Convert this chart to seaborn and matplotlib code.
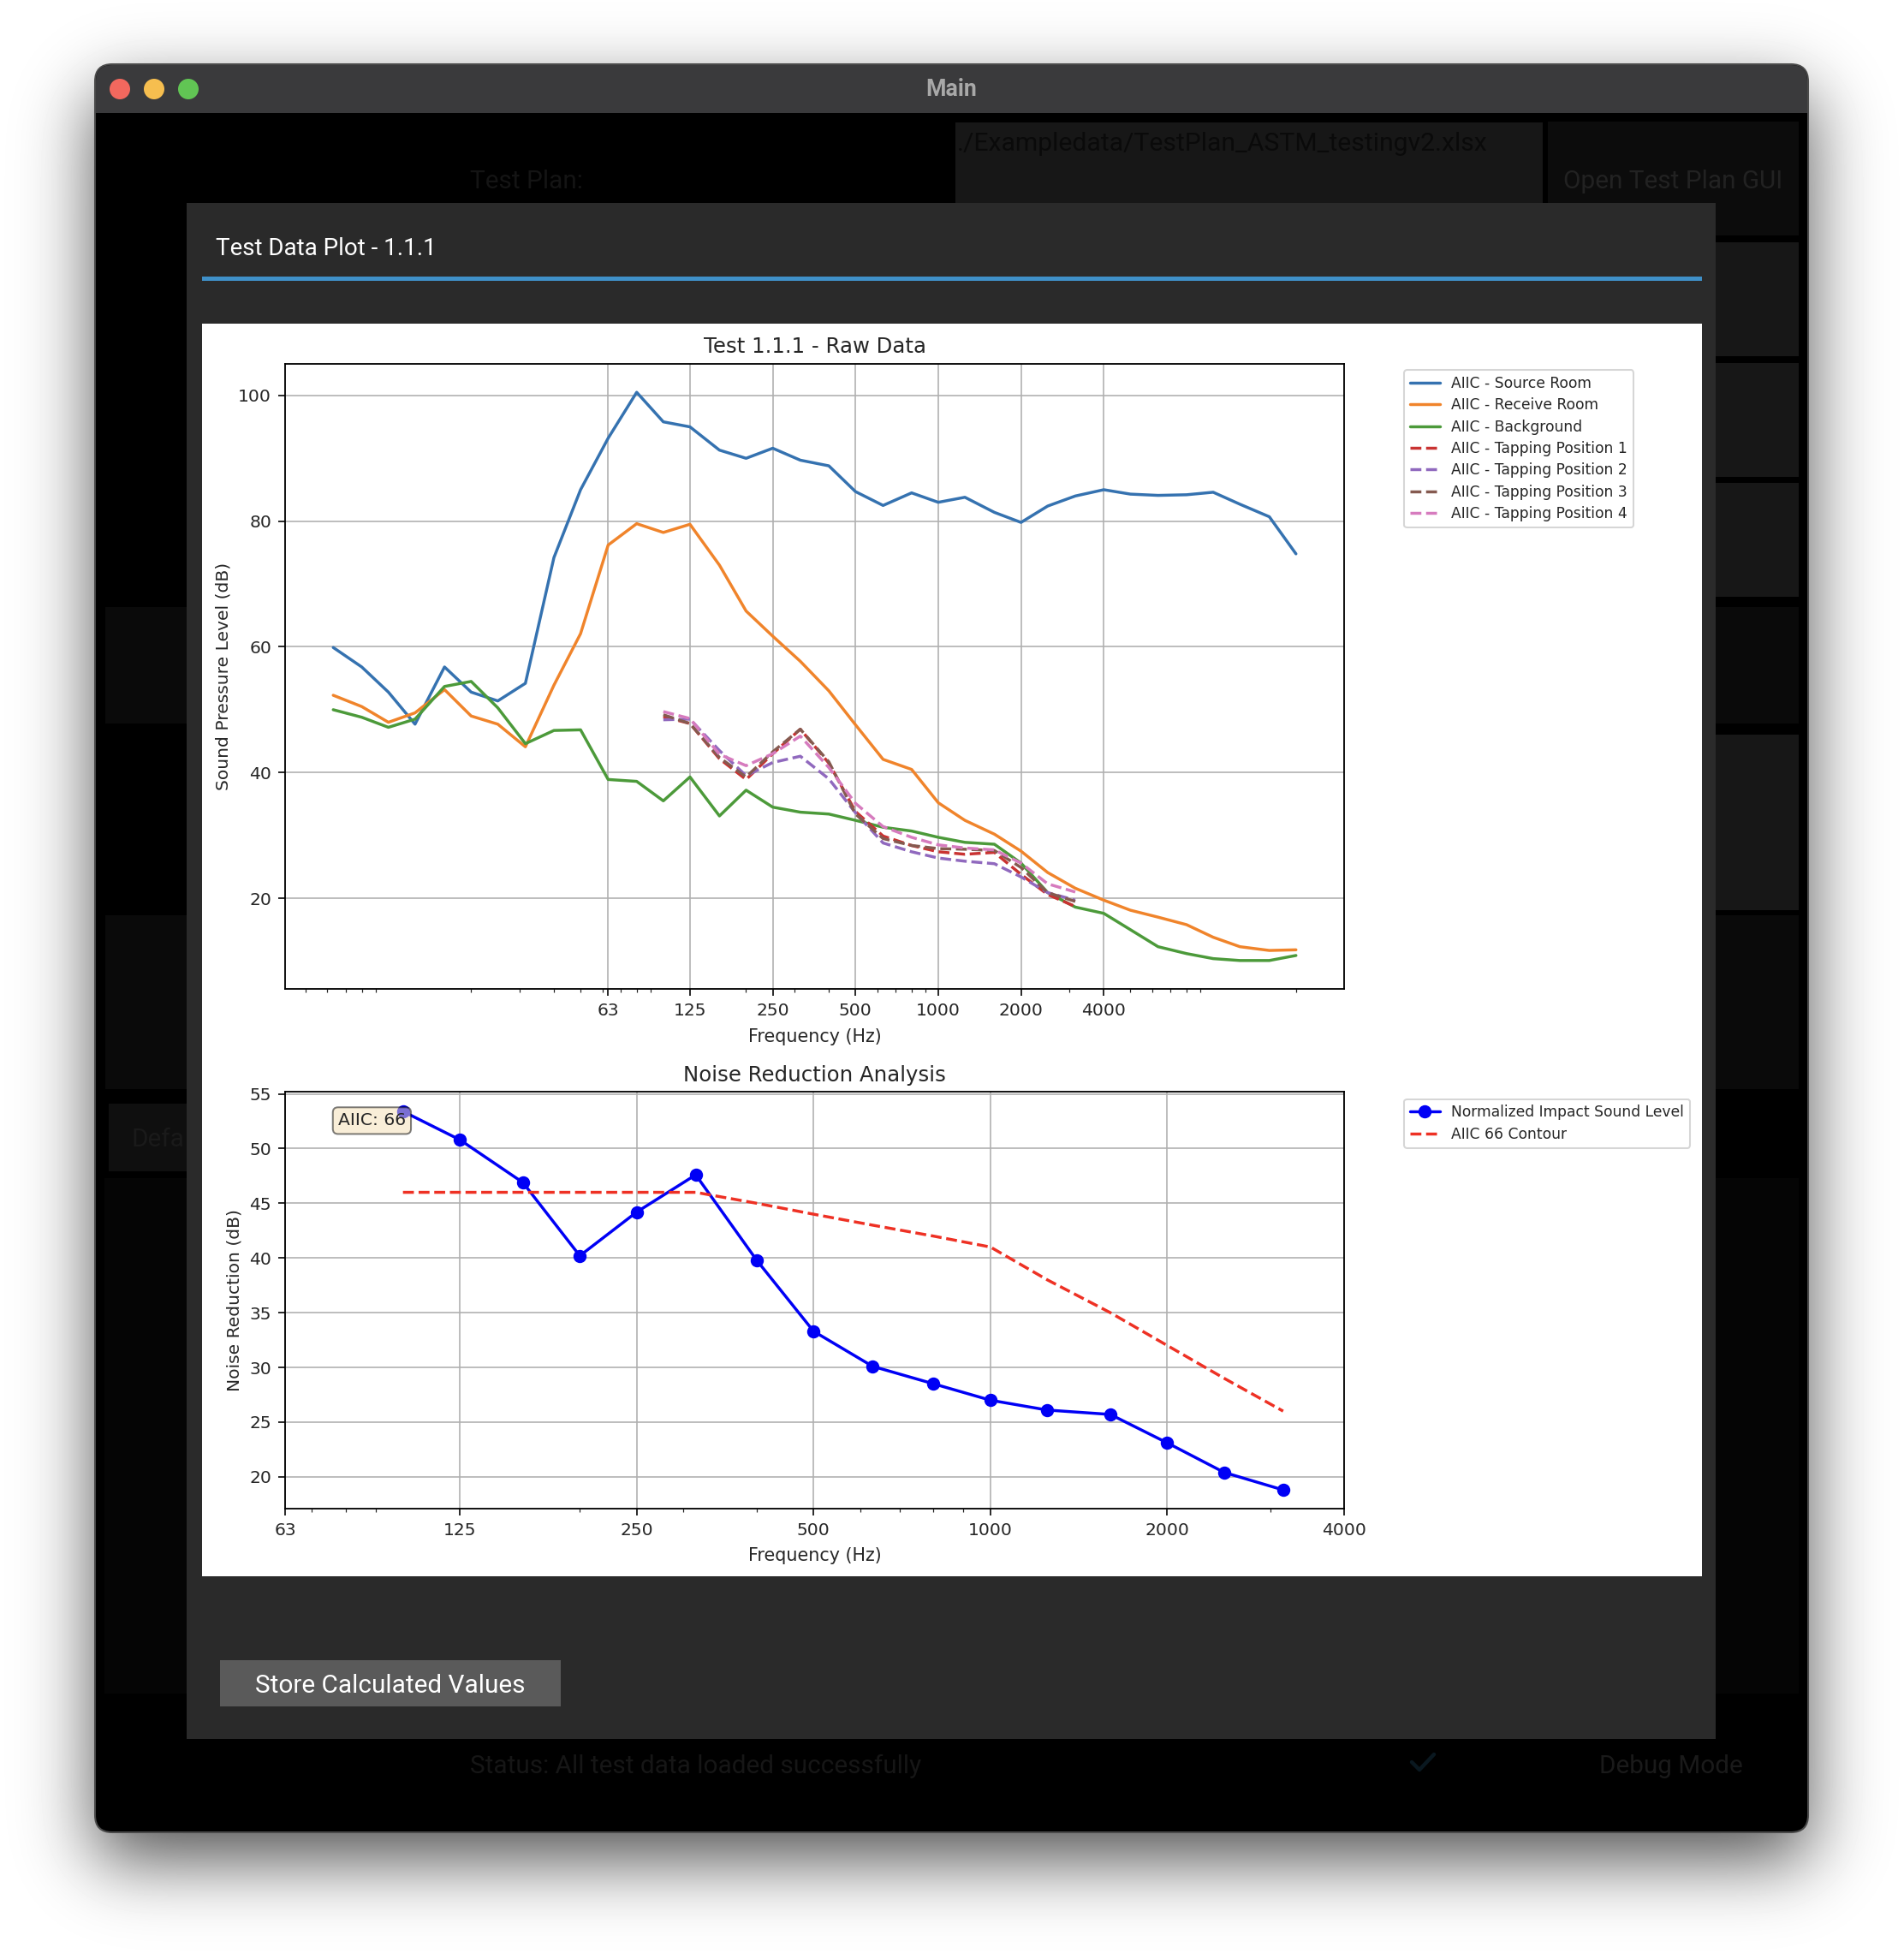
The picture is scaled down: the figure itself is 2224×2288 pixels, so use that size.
import math
import numpy as np
import pandas as pd
import matplotlib
matplotlib.use("Agg")
import matplotlib.pyplot as plt
from matplotlib.patches import Rectangle, FancyBboxPatch, Circle
from matplotlib.ticker import NullFormatter
import seaborn as sns

W, H, DPI = 2224, 2288, 146

freq_full = [6.3, 8, 10, 12.5, 16, 20, 25, 31.5, 40, 50, 63, 80, 100, 125, 160, 200, 250, 315, 400, 500,
             630, 800, 1000, 1250, 1600, 2000, 2500, 3150, 4000, 5000, 6300, 8000, 10000, 12500, 16000, 20000]
source_room = [59.9, 56.8, 52.8, 47.7, 56.8, 52.8, 51.4, 54.2, 74.2, 85.0, 93.2, 100.5, 95.8, 95.0, 91.3, 90.0, 91.6, 89.7,
               88.8, 84.7, 82.5, 84.5, 83.0, 83.8, 81.4, 79.8, 82.4, 84.0, 85.0, 84.3, 84.1, 84.2, 84.6, 82.7, 80.7, 74.8]
receive_room = [52.3, 50.5, 48.0, 49.5, 53.2, 49.0, 47.7, 44.1, 53.9, 62.1, 76.2, 79.6, 78.2, 79.5, 73.0, 65.7, 61.7, 57.7,
                53.0, 47.6, 42.1, 40.5, 35.2, 32.4, 30.2, 27.5, 24.1, 21.6, 19.7, 18.1, 17.0, 15.8, 13.8, 12.3, 11.7, 11.8]
background = [50.0, 48.8, 47.2, 48.5, 53.7, 54.5, 50.3, 44.6, 46.7, 46.8, 38.9, 38.6, 35.5, 39.3, 33.1, 37.2, 34.5, 33.7,
              33.4, 32.4, 31.3, 30.7, 29.7, 28.9, 28.6, 25.6, 20.9, 18.6, 17.6, 15.0, 12.3, 11.2, 10.4, 10.1, 10.1, 10.9]

freq_tap = [100, 125, 160, 200, 250, 315, 400, 500, 630, 800, 1000, 1250, 1600, 2000, 2500, 3150]
tap_1 = [48.9, 47.8, 42.2, 38.9, 43.0, 46.9, 41.5, 33.8, 29.9, 28.4, 27.4, 27.0, 27.3, 23.8, 20.6, 18.7]
tap_2 = [48.4, 48.5, 43.5, 39.5, 41.6, 42.6, 39.0, 33.6, 28.8, 27.4, 26.4, 25.9, 25.5, 23.4, 20.9, 19.7]
tap_3 = [49.2, 47.8, 42.4, 39.3, 43.3, 46.9, 41.7, 33.4, 29.5, 28.4, 27.9, 27.8, 27.6, 24.9, 20.9, 19.5]
tap_4 = [49.7, 48.6, 42.9, 41.1, 43.0, 45.8, 40.8, 35.1, 31.4, 29.7, 28.5, 28.0, 27.7, 25.6, 22.3, 21.0]

nisl = [53.4, 50.8, 46.9, 40.2, 44.2, 47.6, 39.8, 33.3, 30.1, 28.5, 27.0, 26.1, 25.7, 23.1, 20.4, 18.8]
contour = [46, 46, 46, 46, 46, 46, 45, 44, 43, 42, 41, 38, 35, 32, 29, 26]

ticks_top = [63, 125, 250, 500, 1000, 2000, 4000]
ticks_bottom = [63, 125, 250, 500, 1000, 2000, 4000]

sns.set_style("white")
plt.rcParams.update({"font.family": ["DejaVu Sans"], "axes.unicode_minus": False})

fig = plt.figure(figsize=(W / DPI, H / DPI), dpi=DPI, facecolor="white")


def axes_px(x0, y0, x1, y1, **kw):
    return fig.add_axes([x0 / W, 1 - y1 / H, (x1 - x0) / W, (y1 - y0) / H], **kw)


bg = axes_px(0, 0, W, H)
bg.set_xlim(0, W)
bg.set_ylim(H, 0)
bg.axis("off")

# window shadow
erf = np.vectorize(math.erf)
xs = np.arange(W)
ys = np.arange(H)
SIG = 42.0
px = 0.5 * (erf((xs - 111) / (SIG * 2**0.5)) - erf((xs - 2112) / (SIG * 2**0.5)))
py = 0.5 * (erf((ys - 108) / (SIG * 2**0.5)) - erf((ys - 2172) / (SIG * 2**0.5)))
shade = 1 - 0.68 * np.outer(py, px)
bg.imshow(shade, cmap="gray", vmin=0, vmax=1, extent=(0, W, H, 0), aspect="auto", zorder=0, interpolation="bilinear")
bg.set_xlim(0, W)
bg.set_ylim(H, 0)


def rect(x0, y0, x1, y1, color, z=2, **kw):
    bg.add_patch(Rectangle((x0, y0), x1 - x0, y1 - y0, facecolor=color, edgecolor="none", zorder=z, **kw))


UI = 14.7
# window body
bg.add_patch(FancyBboxPatch((111, 75), 2001, 2065, boxstyle="round,pad=0,rounding_size=20", facecolor="#000000",
                            edgecolor="#4A4A4A", linewidth=1.0, zorder=1.5))
bg.add_patch(FancyBboxPatch((112, 76), 1999, 56, boxstyle="round,pad=0,rounding_size=19", facecolor="#3A3A3C",
                            edgecolor="none", zorder=2))
rect(112, 100, 2111, 132, "#3A3A3C")
for cx, col in zip((140, 180, 220), ("#F2685E", "#F6BE4F", "#61C554")):
    bg.add_patch(Circle((cx, 104), 12, facecolor=col, edgecolor="none", zorder=3))
bg.text(1111, 104, "Main", color="#A8A8A8", fontsize=13.2, family="Roboto", weight="bold", ha="center", va="center", zorder=3)

# dimmed main window widgets
for (x0, y0, x1, y1, c) in [(1116, 143, 1802, 238, "#171717"), (1808, 142, 2101, 275, "#0C0C0C"),
                            (1808, 283, 2101, 416, "#171717"), (1808, 424, 2101, 557, "#171717"),
                            (1808, 564, 2101, 697, "#171717"), (123, 709, 2101, 845, "#0A0A0A"),
                            (1808, 858, 2101, 1063, "#171717"), (123, 1069, 2101, 1272, "#0A0A0A"),
                            (127, 1289, 300, 1368, "#0F0F0F"), (122, 1376, 2101, 1978, "#050505")]:
    rect(x0, y0, x1, y1, c, z=2.2)
bg.text(1118, 168, "./Exampledata/TestPlan_ASTM_testingv2.xlsx", color="#0A0A0A", fontsize=14.85, family="Roboto", va="center", zorder=3)
bg.text(615, 212, "Test Plan:", color="#141414", fontsize=UI, family="Roboto", ha="center", va="center", zorder=3)
bg.text(1954, 212, "Open Test Plan GUI", color="#222222", fontsize=UI, family="Roboto", ha="center", va="center", zorder=3)
bg.text(153, 1331, "Defa", color="#1A1A1A", fontsize=UI, family="Roboto", va="center", zorder=3)
bg.text(549, 2063, "Status: All test data loaded successfully", color="#161616", fontsize=UI, family="Roboto", va="center", zorder=3)
bg.text(1952, 2063, "Debug Mode", color="#1A1A1A", fontsize=UI, family="Roboto", ha="center", va="center", zorder=3)
bg.plot([1649, 1658, 1675], [2058, 2067, 2049], color="#0A1820", lw=2.2, zorder=3)

# dialog
rect(218, 237, 2004, 2031, "#2A2A2A", z=4)
bg.text(252, 291, "Test Data Plot - 1.1.1", color="#FFFFFF", fontsize=13.7, family="Roboto", va="center", zorder=5)
rect(236, 323, 1988, 328, "#3F90C8", z=5)
rect(236, 378, 1988, 1841, "#FFFFFF", z=5)
rect(257, 1939, 655, 1993, "#5A5A5A", z=5)
bg.text(456, 1969, "Store Calculated Values", color="#FFFFFF", fontsize=UI, family="Roboto", ha="center", va="center", zorder=6)

# raw data chart
raw_df = pd.DataFrame({"f": freq_full, "source": source_room, "receive": receive_room, "bg": background})
tap_df = pd.DataFrame({"f": freq_tap, "t1": tap_1, "t2": tap_2, "t3": tap_3, "t4": tap_4,
                       "nisl": nisl, "contour": contour})

LW = 1.7
ax1 = axes_px(333, 425, 1570, 1155, facecolor="white")
for col, c, lab in [("source", "#3572B0", "AIIC - Source Room"), ("receive", "#F0842B", "AIIC - Receive Room"),
                    ("bg", "#4C9A3A", "AIIC - Background")]:
    sns.lineplot(data=raw_df, x="f", y=col, ax=ax1, color=c, label=lab, linewidth=LW, estimator=None)
for col, c, lab in [("t1", "#C93332", "AIIC - Tapping Position 1"), ("t2", "#9069BE", "AIIC - Tapping Position 2"),
                    ("t3", "#855A50", "AIIC - Tapping Position 3"), ("t4", "#D67BBE", "AIIC - Tapping Position 4")]:
    sns.lineplot(data=tap_df, x="f", y=col, ax=ax1, color=c, label=lab, linewidth=LW, linestyle="--", estimator=None)
ax1.set_xscale("log")
ax1.set_xticks(ticks_top)
ax1.set_xticklabels([str(t) for t in ticks_top])
ax1.xaxis.set_minor_formatter(NullFormatter())
ax1.set_xlabel("Frequency (Hz)", fontsize=10.2, labelpad=5.5)
ax1.set_ylabel("Sound Pressure Level (dB)", fontsize=10)
ax1.set_title("Test 1.1.1 - Raw Data", fontsize=12, pad=6.5)
ax1.grid(True, color="#b0b0b0", linewidth=0.8)
ax1.margins(x=0.05, y=0.05)
LEG = dict(loc="upper left", fontsize=8.45, labelspacing=0.43, frameon=True, fancybox=True, edgecolor="#cccccc", framealpha=0.8)
ax1.legend(bbox_to_anchor=(1.05, 1.002), **LEG)

# noise reduction chart
ax2 = axes_px(333, 1275, 1570, 1762, facecolor="white")
sns.lineplot(data=tap_df, x="f", y="nisl", ax=ax2, color="#0000F5", marker="o", markersize=6.6, markeredgecolor="#0000F5",
             markeredgewidth=1.0, label="Normalized Impact Sound Level", linewidth=LW, estimator=None)
sns.lineplot(data=tap_df, x="f", y="contour", ax=ax2, color="#EE3124", linestyle="--",
             label="AIIC 66 Contour", linewidth=LW, estimator=None)
ax2.set_xscale("log")
ax2.set_xlim(63, 4000)
ax2.set_ylim(17.09, 55.2)
ax2.set_xticks(ticks_bottom)
ax2.set_xticklabels([str(t) for t in ticks_bottom])
ax2.xaxis.set_minor_formatter(NullFormatter())
ax2.set_xlabel("Frequency (Hz)", fontsize=10.2, labelpad=5)
ax2.set_ylabel("Noise Reduction (dB)", fontsize=10)
ax2.set_title("Noise Reduction Analysis", fontsize=12, pad=6)
ax2.grid(True, color="#b0b0b0", linewidth=0.8)
ax2.text(0.05, 0.95, "AIIC: 66", transform=ax2.transAxes, fontsize=10, va="top", zorder=10,
         bbox=dict(boxstyle="round", facecolor="wheat", edgecolor="black", alpha=0.5))
ax2.legend(bbox_to_anchor=(1.05, 1.0), **LEG)

for ax in (ax1, ax2):
    ax.tick_params(axis="both", which="major", length=4, width=0.8, pad=3.8, labelsize=10, bottom=True, left=True, color="black")
    ax.tick_params(axis="x", which="minor", length=2, width=0.6, bottom=True)
    for s in ax.spines.values():
        s.set_color("black")
        s.set_linewidth(0.9)
    ax.set_axisbelow("line")

fig.savefig("out.png", dpi=DPI)
